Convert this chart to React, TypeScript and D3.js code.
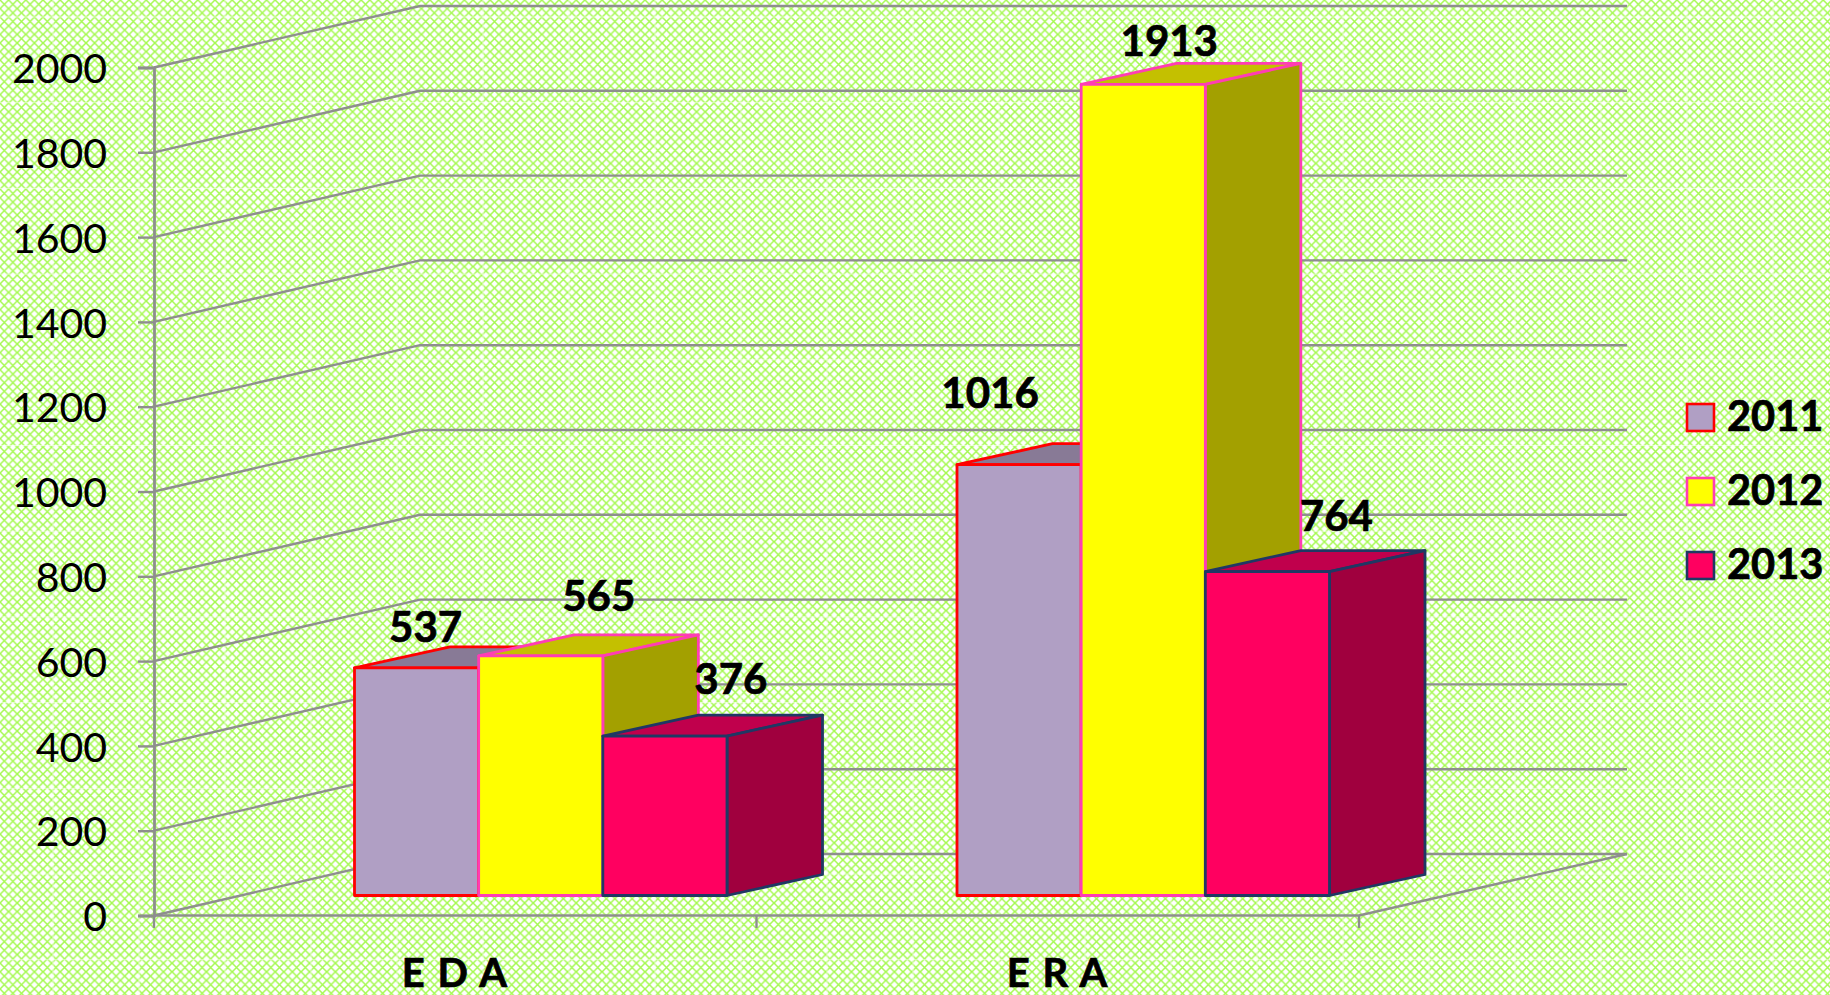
import * as d3 from "d3"
import { useRef, useEffect } from "react"

const categories = ["E D A", "E R A"]
const years = ["2011", "2012", "2013"]
const values2011 = [537, 1016]
const values2012 = [565, 1913]
const values2013 = [376, 764]
const yTicks = [0, 200, 400, 600, 800, 1000, 1200, 1400, 1600, 1800, 2000]

const seriesValues = [values2011, values2012, values2013]
const frontColors = ["#b09fc4", "#ffff00", "#ff0060"]
const topColors = ["#887a96", "#c4c000", "#c0004c"]
const sideColors = ["#8f8199", "#a3a000", "#a0003e"]
const strokeColors = ["#ff0000", "#ff3db4", "#1f3864"]

// the data labels were hand placed in the original, so nudges per bar: [dx from bar centre, dy from bar top]
const labelNudges = [
  [[9, -26], [58, -45], [66, -42]],
  [[-29, -57], [26, -28], [69, -41]],
]

export default function App() {
  const ref = useRef<SVGSVGElement>(null)

  useEffect(() => {
    const width = 1830
    const height = 995
    const frontLeft = 154
    const frontRight = 1359
    const frontBottom = 915.5
    const frontTop = 67.5
    const wallDx = 268
    const wallDy = -61.5
    const barDx = 95.5
    const barDy = -21
    const barInset = 200.5
    const barLift = 20
    const groupWidth = 372.5
    const grey = "#8e8e8e"
    const font = "Lato, sans-serif"

    const svg = d3.select(ref.current)
    svg.selectAll("*").remove()
    svg.attr("width", width).attr("height", height)

    // textured background, a diagonal weave on white
    const tile = 8.6
    const defs = svg.append("defs")
    const pattern = defs.append("pattern")
      .attr("id", "weave")
      .attr("patternUnits", "userSpaceOnUse")
      .attr("width", tile)
      .attr("height", tile)
    pattern.append("rect").attr("width", tile).attr("height", tile).attr("fill", "#ffffff")
    pattern.append("path")
      .attr("d", `M0 0L${tile} ${tile}M${tile} 0L0 ${tile}`)
      .attr("stroke", "#a4f94f")
      .attr("stroke-width", 1.5)
      .attr("fill", "none")
    svg.append("rect").attr("width", width).attr("height", height).attr("fill", "url(#weave)")

    const seams = svg.append("g").attr("stroke", "#ffffff").attr("stroke-opacity", 0.6)
    seams.selectAll("line.v").data(d3.range(53, width, 86)).join("line")
      .attr("class", "v")
      .attr("x1", (d) => d).attr("x2", (d) => d)
      .attr("y1", 0).attr("y2", height)
    seams.selectAll("line.h").data(d3.range(17, height, 85.7)).join("line")
      .attr("class", "h")
      .attr("y1", (d) => d).attr("y2", (d) => d)
      .attr("x1", 0).attr("x2", width)

    const y = d3.scaleLinear().domain([0, 2000]).range([frontBottom, frontTop])
    const x0 = d3.scaleBand<string>().domain(categories).range([frontLeft, frontRight])
    const x1 = d3.scaleBand<string>().domain(years).range([0, groupWidth])

    // walls: side wall diagonals and back wall lines
    const grid = svg.append("g").attr("stroke", grey).attr("stroke-width", 2.4).attr("fill", "none")
    grid.selectAll("path").data(yTicks).join("path")
      .attr("d", (d) => d3.line()([
        [frontLeft, y(d)],
        [frontLeft + wallDx - 2, y(d) + wallDy],
        [frontRight + wallDx, y(d) + wallDy],
      ]))

    // floor
    grid.append("path").attr("d", d3.line()([
      [frontLeft, frontBottom],
      [frontRight, frontBottom],
      [frontRight + wallDx, frontBottom + wallDy],
    ]))
    grid.selectAll("line.cat").data([0, 1, 2]).join("line")
      .attr("class", "cat")
      .attr("x1", (d) => frontLeft + d * x0.step())
      .attr("x2", (d) => frontLeft + d * x0.step())
      .attr("y1", frontBottom)
      .attr("y2", 928)

    // y axis
    const axis = svg.append("g")
      .attr("transform", `translate(${frontLeft},0)`)
      .call(d3.axisLeft(y).tickValues(yTicks).tickSize(16).tickPadding(31).tickFormat(d3.format("d")))
    axis.select(".domain").attr("stroke", grey).attr("stroke-width", 2.8)
    axis.selectAll(".tick line").attr("stroke", grey).attr("stroke-width", 2.4)
    axis.selectAll(".tick text")
      .attr("dy", "0.37em")
      .attr("fill", "#000")
      .attr("font-family", font)
      .attr("font-size", 41)

    // bars, back to front within each group: top, side, front
    const line = d3.line()
    categories.forEach((cat, c) => {
      const groupX = (x0(cat) as number) + barInset
      years.forEach((yr, s) => {
        const v = seriesValues[s][c]
        const left = groupX + (x1(yr) as number)
        const right = left + x1.bandwidth()
        const base = y(0) - barLift
        const top = y(v) - barLift
        const g = svg.append("g")
          .attr("stroke", strokeColors[s])
          .attr("stroke-width", 2.8)
          .attr("stroke-linejoin", "round")
        g.append("path")
          .attr("fill", topColors[s])
          .attr("d", line([[left, top], [left + barDx, top + barDy], [right + barDx, top + barDy], [right, top]]) + "Z")
        g.append("path")
          .attr("fill", sideColors[s])
          .attr("d", line([[right, top], [right + barDx, top + barDy], [right + barDx, base + barDy], [right, base]]) + "Z")
        g.append("rect")
          .attr("fill", frontColors[s])
          .attr("x", left)
          .attr("y", top)
          .attr("width", right - left)
          .attr("height", base - top)
      })
    })

    // data labels
    categories.forEach((cat, c) => {
      years.forEach((yr, s) => {
        const v = seriesValues[s][c]
        const [dx, dy] = labelNudges[c][s]
        svg.append("text")
          .attr("x", (x0(cat) as number) + barInset + (x1(yr) as number) + x1.bandwidth() / 2 + dx)
          .attr("y", y(v) - barLift + dy)
          .attr("text-anchor", "middle")
          .attr("font-family", font)
          .attr("font-weight", 700)
          .attr("font-size", 42)
          .attr("stroke", "#000")
          .attr("stroke-width", 0.7)
          .text(v)
      })
    })

    // category labels
    svg.selectAll("text.cat").data(categories).join("text")
      .attr("class", "cat")
      .attr("x", (d) => (x0(d) as number) + x0.bandwidth() / 2)
      .attr("y", 987)
      .attr("text-anchor", "middle")
      .attr("font-family", font)
      .attr("font-weight", 700)
      .attr("font-size", 40)
      .attr("letter-spacing", 1.5)
      .attr("stroke", "#000")
      .attr("stroke-width", 0.7)
      .text((d) => d)

    // legend
    const legend = svg.append("g")
      .selectAll("g")
      .data(years)
      .join("g")
      .attr("transform", (d, i) => `translate(1687,${404 + i * 74})`)
    legend.append("rect")
      .attr("width", 27)
      .attr("height", 27)
      .attr("fill", (d, i) => frontColors[i])
      .attr("stroke", (d, i) => strokeColors[i])
      .attr("stroke-width", 2.6)
    legend.append("text")
      .attr("x", 40)
      .attr("y", 27)
      .attr("font-family", font)
      .attr("font-weight", 700)
      .attr("font-size", 41.5)
      .attr("stroke", "#000")
      .attr("stroke-width", 0.7)
      .text((d) => d)
  }, [])

  return (
    <div style={{ position: "absolute", left: 0, top: 0 }}>
      <svg ref={ref} style={{ display: "block" }}></svg>
    </div>
  )
}
